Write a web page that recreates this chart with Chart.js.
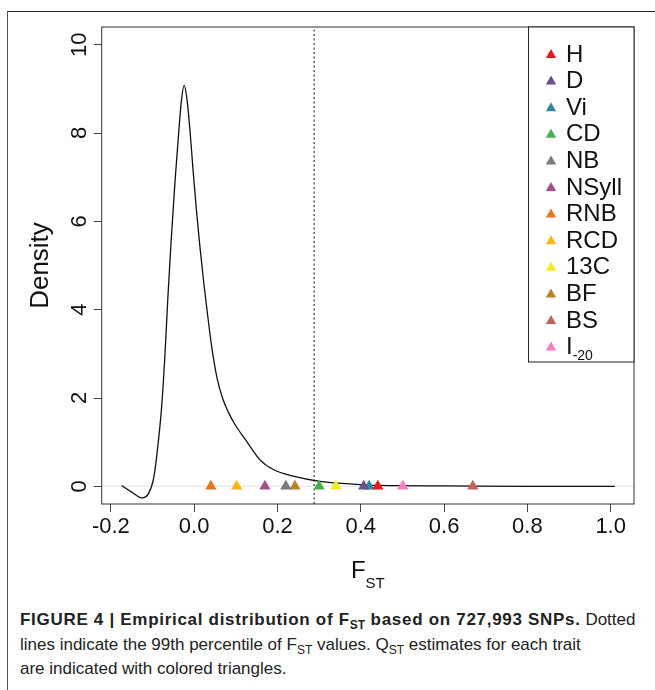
<!DOCTYPE html>
<html>
<head>
<meta charset="utf-8">
<script src="https://cdn.jsdelivr.net/npm/chart.js@4.4.0/dist/chart.umd.min.js"></script>
<style>
  body { margin: 0; background: #fff; font-family: "Liberation Sans", Arial, Helvetica, sans-serif; }
  #frame { position: absolute; left: 7px; top: 11px; width: 700px; height: 700px; border-left: 1.5px solid #555; border-top: 1.5px solid #222; }
  #wrap { position: absolute; left: 0; top: 0; width: 655px; height: 600px; }
  #caption { position: absolute; left: 20px; top: 608px; font-size: 17px; line-height: 24.5px; color: #222; white-space: nowrap; }
  #caption b { letter-spacing: 0.7px; }
  #caption sub { font-size: 12px; vertical-align: -4px; line-height: 0; letter-spacing: 0; }
</style>
</head>
<body>
<div id="frame"></div>
<div id="wrap"><canvas id="chart" width="655" height="600"></canvas></div>
<div id="caption">
  <b>FIGURE 4 | Empirical distribution of F<sub>ST</sub> based on 727,993 SNPs.</b> Dotted<br>
  lines indicate the 99th percentile of F<sub>ST</sub> values. Q<sub>ST</sub> estimates for each trait<br>
  are indicated with colored triangles.
</div>
<script>
// density curve of Fst
const densX = [-0.174, -0.150, -0.126, -0.110, -0.098, -0.090, -0.078, -0.070, -0.063, -0.055, -0.046, -0.038, -0.031, -0.024, -0.017, -0.010, -0.003, 0.005, 0.013, 0.022, 0.032, 0.043, 0.055, 0.068, 0.082, 0.098, 0.126, 0.158, 0.190, 0.238, 0.302, 0.380, 0.446, 0.600, 0.800, 1.010];
const densY = [0.02, -0.13, -0.26, -0.17, 0.15, 0.68, 1.81, 3.0, 4.3, 5.6, 6.9, 7.9, 8.7, 9.08, 8.75, 8.05, 7.2, 6.3, 5.5, 4.7, 3.9, 3.1, 2.45, 2.0, 1.68, 1.40, 1.02, 0.60, 0.38, 0.23, 0.11, 0.05, 0.02, 0.01, 0.0, 0.0];

// 99th percentile of Fst
const cutoff = 0.288;

// Qst per trait
const traits = ['H', 'D', 'Vi', 'CD', 'NB', 'NSyll', 'RNB', 'RCD', '13C', 'BF', 'BS', 'I-20'];
const qst = [0.441, 0.407, 0.420, 0.300, 0.220, 0.170, 0.040, 0.102, 0.340, 0.242, 0.669, 0.501];
const traitColors = ['#e41a1c', '#6b4f8c', '#2f8aa1', '#4aae4a', '#7a7a7a', '#a4518b', '#e8751f', '#fdb515', '#f1ec22', '#b9832b', '#c1625c', '#f47fc1'];

const xTicks = [-0.2, 0.0, 0.2, 0.4, 0.6, 0.8, 1.0];
const yTicks = [0, 2, 4, 6, 8, 10];

const FONT = '"Liberation Sans", Arial, Helvetica, sans-serif';

const datasets = [];
traits.forEach((t, i) => {
  datasets.push({
    label: t,
    data: [{ x: qst[i], y: 0 }],
    pointStyle: 'triangle',
    pointRadius: 6.5,
    backgroundColor: traitColors[i],
    borderColor: traitColors[i],
    borderWidth: 0,
    order: 0
  });
});
datasets.push({
  label: 'density',
  data: densX.map((x, i) => ({ x: x, y: densY[i] })),
  showLine: true,
  borderColor: '#111',
  borderWidth: 1.3,
  pointRadius: 0,
  cubicInterpolationMode: 'monotone',
  order: 1
});
datasets.push({
  label: 'cutoff',
  data: [{ x: cutoff, y: -0.4 }, { x: cutoff, y: 10.4 }],
  showLine: true,
  borderColor: '#333',
  borderWidth: 1.2,
  borderDash: [2, 2.5],
  pointRadius: 0,
  order: 2
});
datasets.push({
  label: 'zero',
  data: [{ x: -0.222, y: 0 }, { x: 1.056, y: 0 }],
  showLine: true,
  borderColor: '#ebebeb',
  borderWidth: 1.5,
  pointRadius: 0,
  order: 3
});

const decorations = {
  id: 'decorations',
  afterDraw(chart) {
    const ctx = chart.ctx;
    const a = chart.chartArea;
    const ys = chart.scales.y;
    ctx.save();
    // plot box
    ctx.strokeStyle = '#333';
    ctx.lineWidth = 1;
    ctx.strokeRect(a.left, a.top, a.right - a.left, a.bottom - a.top);

    // y tick labels, rotated like R
    ctx.fillStyle = '#111';
    ctx.font = '22px ' + FONT;
    ctx.textAlign = 'center';
    ctx.textBaseline = 'middle';
    yTicks.forEach(v => {
      ctx.save();
      ctx.translate(80, ys.getPixelForValue(v));
      ctx.rotate(-Math.PI / 2);
      ctx.fillText(String(v), 0, 0);
      ctx.restore();
    });

    // axis titles
    ctx.font = '26px ' + FONT;
    ctx.save();
    ctx.translate(41, (a.top + a.bottom) / 2);
    ctx.rotate(-Math.PI / 2);
    ctx.fillText('Density', 0, 0);
    ctx.restore();

    const cx = (a.left + a.right) / 2;
    ctx.textAlign = 'left';
    ctx.textBaseline = 'alphabetic';
    ctx.font = '24px ' + FONT;
    const fw = ctx.measureText('F').width;
    ctx.font = '15px ' + FONT;
    const sw = ctx.measureText('ST').width;
    const start = cx - (fw + sw) / 2;
    ctx.font = '24px ' + FONT;
    ctx.fillText('F', start, 578);
    ctx.font = '15px ' + FONT;
    ctx.fillText('ST', start + fw, 588);

    // legend
    const lx0 = 528, lx1 = a.right, ly0 = a.top, ly1 = 362;
    ctx.fillStyle = '#fff';
    ctx.fillRect(lx0, ly0, lx1 - lx0, ly1 - ly0);
    ctx.strokeStyle = '#222';
    ctx.lineWidth = 1;
    ctx.strokeRect(lx0 + 0.5, ly0, lx1 - lx0 - 0.5, ly1 - ly0);
    traits.forEach((t, i) => {
      const y = 55 + i * 26.6;
      const r = 6;
      ctx.fillStyle = traitColors[i];
      ctx.beginPath();
      ctx.moveTo(551, y - r);
      ctx.lineTo(551 + r * 0.866, y + r / 2);
      ctx.lineTo(551 - r * 0.866, y + r / 2);
      ctx.closePath();
      ctx.fill();
      ctx.fillStyle = '#111';
      ctx.textBaseline = 'middle';
      ctx.font = '24px ' + FONT;
      if (t === 'I-20') {
        ctx.fillText('I', 566, y);
        const iw = ctx.measureText('I').width;
        ctx.font = '14px ' + FONT;
        ctx.fillText('-20', 566 + iw, y + 9);
      } else {
        ctx.fillText(t, 566, y);
      }
    });
    ctx.restore();
  }
};

new Chart(document.getElementById('chart'), {
  type: 'scatter',
  data: { datasets: datasets },
  options: {
    responsive: false,
    animation: false,
    events: [],
    layout: { padding: { left: 0, top: 27, right: 21, bottom: 0 } },
    plugins: { legend: { display: false }, tooltip: { enabled: false } },
    scales: {
      x: {
        type: 'linear',
        min: -0.222,
        max: 1.056,
        afterBuildTicks: s => { s.ticks = xTicks.map(v => ({ value: v })); },
        afterFit: s => { s.height = 96; },
        border: { display: false },
        grid: { drawOnChartArea: false, drawTicks: true, tickLength: 8, color: '#444' },
        ticks: {
          color: '#111',
          padding: 2,
          maxRotation: 0,
          font: { size: 22, family: FONT },
          callback: v => v.toFixed(1)
        }
      },
      y: {
        type: 'linear',
        min: -0.4,
        max: 10.4,
        afterBuildTicks: s => { s.ticks = yTicks.map(v => ({ value: v })); },
        afterFit: s => { s.width = 101.7; },
        border: { display: false },
        grid: { drawOnChartArea: false, drawTicks: true, tickLength: 8, color: '#444' },
        ticks: { color: 'rgba(0,0,0,0)', font: { size: 21, family: FONT } }
      }
    }
  },
  plugins: [decorations]
});
</script>
</body>
</html>
